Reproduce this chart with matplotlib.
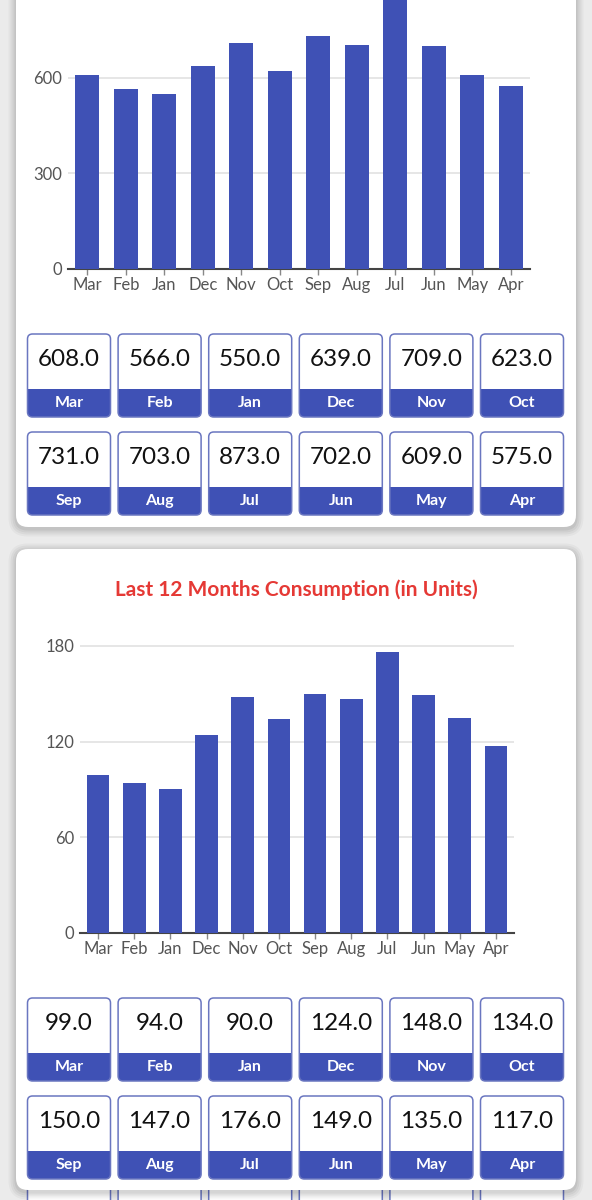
import matplotlib as mpl
mpl.use('Agg')
import matplotlib.pyplot as plt
from matplotlib.patches import FancyBboxPatch, Rectangle

months = ['Mar', 'Feb', 'Jan', 'Dec', 'Nov', 'Oct', 'Sep', 'Aug', 'Jul', 'Jun', 'May', 'Apr']
amount = [608.0, 566.0, 550.0, 639.0, 709.0, 623.0, 731.0, 703.0, 873.0, 702.0, 609.0, 575.0]
units = [99.0, 94.0, 90.0, 124.0, 148.0, 134.0, 150.0, 147.0, 176.0, 149.0, 135.0, 117.0]
amount_ticks = [0, 300, 600]
units_ticks = [0, 60, 120, 180]
title2 = 'Last 12 Months Consumption (in Units)'

W, H = 592, 1200
blue = '#3f51b5'
edge = '#6a76c0'
red = '#e53935'
grey_txt = '#555555'
font = 'Lato'

plt.rcParams['font.family'] = [font, 'DejaVu Sans']

fig = plt.figure(figsize=(W / 100, H / 100), dpi=100)
fig.patch.set_facecolor('#ebebeb')

bg = fig.add_axes([0, 0, 1, 1])
bg.set_xlim(0, W)
bg.set_ylim(H, 0)
bg.axis('off')


def card(x0, y0, x1, y1):
    # soft shadow then white card
    for i, a in enumerate([0.05, 0.05, 0.04, 0.03]):
        g = 1.5 + i * 2.0
        bg.add_patch(FancyBboxPatch((x0 - g, y0 - g + 2), x1 - x0 + 2 * g, y1 - y0 + 2 * g,
                                    boxstyle='round,pad=0,rounding_size=%d' % (12 + g),
                                    fc='black', ec='none', alpha=a, zorder=1))
    bg.add_patch(FancyBboxPatch((x0, y0), x1 - x0, y1 - y0,
                                boxstyle='round,pad=0,rounding_size=12',
                                fc='white', ec='none', zorder=2))


def value_box(x, y, w, h, band, val, lab, z=3):
    outer = FancyBboxPatch((x, y), w, h, boxstyle='round,pad=0,rounding_size=5',
                           fc='white', ec='none', zorder=z)
    bg.add_patch(outer)
    inner = FancyBboxPatch((x, y), w, h, boxstyle='round,pad=0,rounding_size=5',
                           fc=blue, ec='none', zorder=z + 0.1)
    bg.add_patch(inner)
    clip = Rectangle((x - 2, y + h - band), w + 4, band + 2, transform=bg.transData)
    inner.set_clip_path(clip)
    bg.add_patch(FancyBboxPatch((x, y), w, h, boxstyle='round,pad=0,rounding_size=5',
                                fc='none', ec=edge, lw=1.1, zorder=z + 0.2))
    if val is not None:
        bg.text(x + w / 2, y + (h - band) / 2 - 2, '%.1f' % val, ha='center', va='center',
                fontsize=17.5, color='#111111', zorder=z + 0.3)
    bg.text(x + w / 2, y + h - band / 2, lab, ha='center', va='center',
            fontsize=11.5, fontweight='bold', color='white', zorder=z + 0.3)


# partial boxes peeking below the last card
for i in range(6):
    value_box(27.5 + i * 90.6, 1170, 83, 83, 28, None, '', z=0.5)

card(16, -30, 576, 527)
card(16, 549, 576, 1190)

box_x0, box_w, box_step = 27.5, 83, 90.6


def box_grid(vals, row_tops, band):
    for k, (m, v) in enumerate(zip(months, vals)):
        r, c = divmod(k, 6)
        top = row_tops[r]
        value_box(box_x0 + c * box_step, top, box_w, 83, band, v, m)


box_grid(amount, [334, 432], 28)
box_grid(units, [998, 1096], 28)

bg.text(W / 2, 590, title2, ha='center', va='center', fontsize=15,
        fontweight='bold', color=red, zorder=5)


def bar_chart(vals, ticks, left, right, y_zero, y_ref, ref_val, top_px):
    ppu = (y_zero - y_ref) / ref_val
    ax = fig.add_axes([left / W, 1 - y_zero / H, (right - left) / W, (y_zero - top_px) / H])
    ax.set_zorder(6)
    ax.patch.set_alpha(0)
    x = list(range(len(vals)))
    ax.bar(x, vals, width=0.63, color=blue, zorder=3)
    ax.set_xlim(-0.5, len(vals) - 0.5)
    ax.set_ylim(0, (y_zero - top_px) / ppu)
    ax.set_yticks(ticks)
    ax.set_yticklabels([str(t) for t in ticks])
    ax.set_xticks(x)
    ax.set_xticklabels(months)
    for s in ['top', 'right', 'left']:
        ax.spines[s].set_visible(False)
    ax.spines['bottom'].set_color('#444444')
    ax.spines['bottom'].set_linewidth(1.5)
    ax.grid(axis='y', color='#e2e2e2', lw=1.2, zorder=0)
    ax.tick_params(axis='y', length=0, pad=4, labelsize=12, labelcolor=grey_txt)
    ax.tick_params(axis='x', length=4, width=1, color='#888888', pad=2,
                   labelsize=12, labelcolor=grey_txt)
    return ax


bar_chart(amount, amount_ticks, 68, 530, 268.7, 78, 600, 0)
bar_chart(units, units_ticks, 80, 514, 932.7, 646, 180, 638)

fig.savefig('out.png', dpi=100)
